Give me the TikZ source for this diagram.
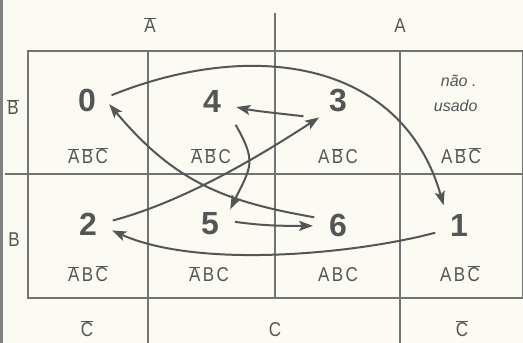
\documentclass[tikz,border=0pt]{standalone}
\usepackage{fontspec}
\setmainfont{Liberation Sans}
\newfontfamily\schmal[FakeStretch=0.85]{Liberation Sans}
\usepackage{tikz}
\definecolor{papier}{RGB}{252,251,242}
\definecolor{tinte}{RGB}{85,85,85}
\definecolor{raster}{RGB}{115,115,115}
\usetikzlibrary{arrows.meta}
\newcommand{\kompl}[1]{$\overline{\mbox{#1}}$}

\begin{document}
\begin{tikzpicture}[x=1pt, y=1pt,
			>={Stealth[length=14pt,width=10pt,inset=3pt]},   %Pfeilspitzen
			ziffer/.style={circle, inner sep=0pt, outer sep=0pt, minimum size=50pt, text=tinte, font=\fontsize{32}{32}\selectfont\bfseries},
			term/.style={anchor=base, text=tinte, font=\schmal\fontsize{20}{20}\selectfont},
			notiz/.style={anchor=base east, text=tinte, font=\fontsize{16}{16}\selectfont\itshape},
			pfeil/.style={->, draw=tinte, line width=2pt}]
			%Hintergrund
			\fill[papier] (0,0) rectangle (523,343);
			\useasboundingbox (0,0) rectangle (523,343);
			\draw[gray, line width=2.5pt] (1.5,0) -- (1.5,343);
			%Raster zeichnen
			\draw[raster, line width=1.1pt] (28,45) rectangle (522.5,292);
			\draw[raster, line width=1.1pt] (5,169) -- (523,169);
			\foreach \x in {148,400} \draw[raster, line width=1.1pt] (\x,292) -- (\x,0);
			\draw[raster, line width=1.1pt] (275,330) -- (275,45);
			%Variablen am Rand
			\node[term] (ka) at (150,310) {\kompl{A}};
			\node[term] (a) at (400,310) {A};
			\node[term] (kb) at (13,228) {\kompl{B}};
			\node[term] (b) at (14,96) {B};
			\node[term] (kc1) at (87,6) {\kompl{C}};
			\node[term] (c) at (275,6) {C};
			\node[term] (kc2) at (462,6) {\kompl{C}};
			%Zustaende
			\foreach \n/\x/\y in {0/87/243, 4/212/242, 3/338/242, 2/88/119, 5/210/119, 6/338/118, 1/459/118}
				\node[ziffer] (n\n) at (\x,\y) {\n};
			\node[notiz] (nu1) at (480,256) {não .};
			\node[notiz] (nu2) at (481,231) {usado};
			%Minterme
			\node[term] (t0) at (88,179) {\kompl{A}\kern2.5pt\kompl{B}\kern2.5pt\kompl{C}};
			\node[term] (t4) at (211,179) {\kompl{A}\kern2.5pt\kompl{B}\kern2.5pt C};
			\node[term] (t3) at (338,179) {A\kern2.5pt\kompl{B}\kern2.5pt C};
			\node[term] (t7) at (461,179) {A\kern2.5pt\kompl{B}\kern2.5pt\kompl{C}};
			\node[term] (t2) at (88,61) {\kompl{A}\kern2.5pt B\kern2.5pt\kompl{C}};
			\node[term] (t5) at (209,61) {\kompl{A}\kern2.5pt B\kern2.5pt C};
			\node[term] (t6) at (338,61) {A\kern2.5pt B\kern2.5pt C};
			\node[term] (t1) at (460,61) {A\kern2.5pt B\kern2.5pt\kompl{C}};
			%Uebergaenge
			\draw[pfeil] (n0.11) .. controls +(22:148) and +(106:154) .. (n1.128);
			\draw[pfeil] (n1.198) .. controls +(195:78) and +(336:97) .. (n2.345);
			\draw[pfeil] (n2.8) .. controls +(15:69) and +(213:83) .. (n3.221);
			\draw[pfeil, shorten <=17pt] (n3.225) .. controls +(172:25) and +(-12:20) .. (n4.346);
			\draw[pfeil, shorten <=9pt] (n4.320) .. controls +(300:52) and +(64:47) .. (n5.36);
			\draw[pfeil] (n5.5) .. controls +(-8:30) and +(180:30) .. (n6.182);
			\draw[pfeil, shorten >=-3pt] (n6.162) .. controls +(170:90) and +(310:100) .. (n0.345);
		\end{tikzpicture}
\end{document}
